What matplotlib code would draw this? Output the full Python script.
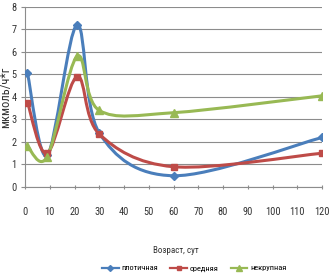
import matplotlib
matplotlib.use("Agg")
import matplotlib.pyplot as plt
from matplotlib.path import Path
from matplotlib.patches import PathPatch
from matplotlib.lines import Line2D
from matplotlib import font_manager
import numpy as np

x_days = [1, 9, 21, 30, 60, 120]
plotichnaya = [5.05, 1.4, 7.2, 2.4, 0.5, 2.2]
srednyaya = [3.75, 1.5, 4.9, 2.35, 0.9, 1.5]
nekrupnaya = [1.8, 1.35, 5.8, 3.4, 3.3, 4.05]
series_names = ["плотичная", "средняя", "некрупная"]
x_ticks = list(range(0, 121, 10))
y_ticks = list(range(0, 9))

colors = ["#4A7EBB", "#BE4B48", "#98B954"]
markers = ["D", "s", "^"]
msizes = [4.5, 5, 5.5]

names = {f.name for f in font_manager.fontManager.ttflist}
cands = [n for n in ['Liberation Sans Narrow', 'DejaVu Sans Condensed', 'Roboto Condensed',
                     'Open Sans Condensed'] if n in names]
plt.rcParams['font.family'] = cands + ['DejaVu Sans']

fig = plt.figure(figsize=(3.29, 2.75), dpi=100)
ax = fig.add_axes([0.076, 0.32, 0.903, 0.655])


def smooth_path(xs, ys, tension=1.0 / 6):
    pts = np.column_stack([xs, ys]).astype(float)
    n = len(pts)
    verts = [pts[0]]
    codes = [Path.MOVETO]
    for i in range(n - 1):
        p0 = pts[i - 1] if i > 0 else pts[i]
        p1 = pts[i]
        p2 = pts[i + 1]
        p3 = pts[i + 2] if i + 2 < n else pts[i + 1]
        c1 = p1 + (p2 - p0) * tension
        c2 = p2 - (p3 - p1) * tension
        verts += [c1, c2, p2]
        codes += [Path.CURVE4] * 3
    return Path(verts, codes)


for ys, c, m, ms in zip([plotichnaya, srednyaya, nekrupnaya], colors, markers, msizes):
    patch = PathPatch(smooth_path(x_days, ys), facecolor='none', edgecolor=c,
                      lw=2.2, zorder=3, capstyle='round', joinstyle='round')
    ax.add_patch(patch)
    ax.plot(x_days, ys, linestyle='none', marker=m, color=c, ms=ms, zorder=4)

ax.set_xlim(0, 120)
ax.set_ylim(0, 8)
ax.set_xticks(x_ticks)
ax.set_yticks(y_ticks)
ax.yaxis.grid(True, color='#8C8C8C', lw=0.8)
ax.set_axisbelow(True)
for s in ['top', 'right']:
    ax.spines[s].set_visible(False)
ax.spines['left'].set_color('#8C8C8C')
ax.spines['bottom'].set_color('#8C8C8C')
ax.tick_params(axis='x', length=3, direction='inout', color='#8C8C8C', pad=13,
               labelsize=7.5, labelcolor='#333333')
ax.tick_params(axis='y', length=3, direction='out', color='#8C8C8C', pad=3,
               labelsize=7.5, labelcolor='#333333')

ax.set_ylabel("мкмоль/ч*г", fontsize=9, color='#333333')
ax.yaxis.set_label_coords(-0.045, 0.5)
fig.text(0.535, 0.09, "Возраст, сут", fontsize=6.5, color='#333333', ha='center', va='center')

handles = [Line2D([0], [0], color=c, marker=m, ms=ms - 1.5, lw=1.6)
           for c, m, ms in zip(colors, markers, msizes)]
fig.legend(handles, series_names, loc='center', bbox_to_anchor=(0.59, 0.025),
           ncol=3, frameon=False, fontsize=6, handlelength=2.0, handletextpad=0.3,
           columnspacing=1.5)

fig.savefig("out.png", dpi=100)
